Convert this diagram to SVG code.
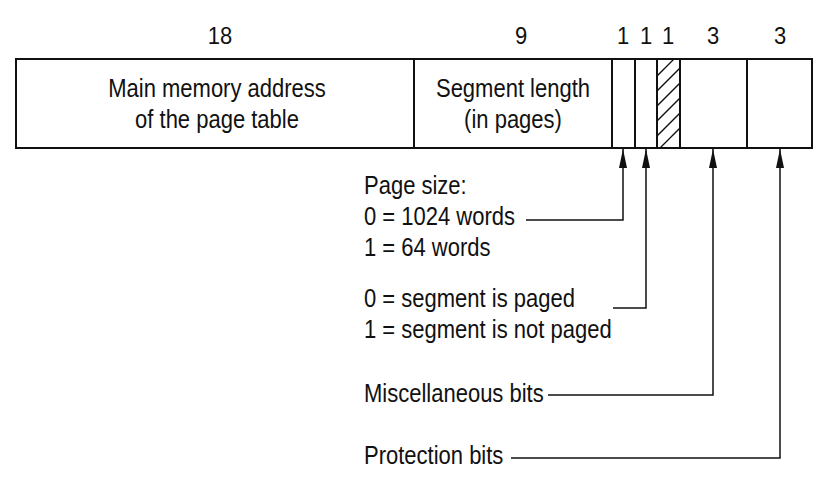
<svg xmlns="http://www.w3.org/2000/svg" width="832" height="489" viewBox="0 0 832 489">
<style>
text{font-family:"Liberation Sans",Arial,sans-serif;font-size:22px;fill:#111}
.c{text-anchor:middle}
.box{fill:#fff;stroke:#111;stroke-width:2}
.conn{fill:none;stroke:#111;stroke-width:1.5;marker-end:url(#ah)}
</style>
<defs>
<marker id="ah" viewBox="0 0 19 8" refX="19" refY="4" markerWidth="19" markerHeight="8" markerUnits="userSpaceOnUse" orient="auto">
<path d="M0,0 L19,4 L0,8 Z" fill="#111"/>
</marker>
<clipPath id="hc"><rect x="657" y="59" width="23" height="89"/></clipPath>
</defs>
<rect width="832" height="489" fill="#fff"/>
<g id="bit-widths">
<text class="c" transform="translate(220,44) scale(1,1.12)">18</text>
<text class="c" transform="translate(521,44) scale(1,1.12)">9</text>
<text class="c" transform="translate(623,44) scale(1,1.12)">1</text>
<text class="c" transform="translate(646,44) scale(1,1.12)">1</text>
<text class="c" transform="translate(668,44) scale(1,1.12)">1</text>
<text class="c" transform="translate(713,44) scale(1,1.12)">3</text>
<text class="c" transform="translate(780,44) scale(1,1.12)">3</text>
</g>
<g id="field-address">
<rect class="box" x="16" y="59" width="398" height="89"/>
<text class="c" transform="translate(217,97) scale(1,1.17)">Main memory address</text>
<text class="c" transform="translate(217,128) scale(1,1.17)">of the page table</text>
</g>
<g id="field-length">
<rect class="box" x="414" y="59" width="198" height="89"/>
<text class="c" transform="translate(513,97) scale(1,1.17)">Segment length</text>
<text class="c" transform="translate(513,128) scale(1,1.17)">(in pages)</text>
</g>
<g id="field-pagesize"><rect class="box" x="612" y="59" width="23" height="89"/></g>
<g id="field-paged"><rect class="box" x="635" y="59" width="22" height="89"/></g>
<g id="field-unused">
<rect class="box" x="657" y="59" width="23" height="89"/>
<g clip-path="url(#hc)" stroke="#111" stroke-width="1.3">
<line x1="650" y1="158" x2="700" y2="108"/>
<line x1="650" y1="143" x2="700" y2="93"/>
<line x1="650" y1="128" x2="700" y2="78"/>
<line x1="650" y1="113" x2="700" y2="63"/>
<line x1="650" y1="98" x2="700" y2="48"/>
<line x1="650" y1="83" x2="700" y2="33"/>
</g>
<rect x="657" y="59" width="23" height="89" fill="none" stroke="#111" stroke-width="2"/>
</g>
<g id="field-misc"><rect class="box" x="680" y="59" width="67" height="89"/></g>
<g id="field-prot"><rect class="box" x="747" y="59" width="65" height="89"/></g>
<g id="label-pagesize">
<text transform="translate(364,194) scale(1,1.17)">Page size:</text>
<text transform="translate(364,225) scale(1,1.17)">0 = 1024 words</text>
<text transform="translate(364,256) scale(1,1.17)">1 = 64 words</text>
</g>
<g id="label-paged">
<text transform="translate(364,307) scale(1,1.17)">0 = segment is paged</text>
<text transform="translate(364,338) scale(1,1.17)">1 = segment is not paged</text>
</g>
<g id="label-misc"><text transform="translate(364,402) scale(1,1.17)">Miscellaneous bits</text></g>
<g id="label-prot"><text transform="translate(364,464) scale(1,1.17)">Protection bits</text></g>
<g id="connectors">
<path class="conn" d="M526,220 H623 V149"/>
<path class="conn" d="M613,308 H646 V149"/>
<path class="conn" d="M548,395 H713 V149"/>
<path class="conn" d="M511,458 H780 V149"/>
</g>
</svg>
